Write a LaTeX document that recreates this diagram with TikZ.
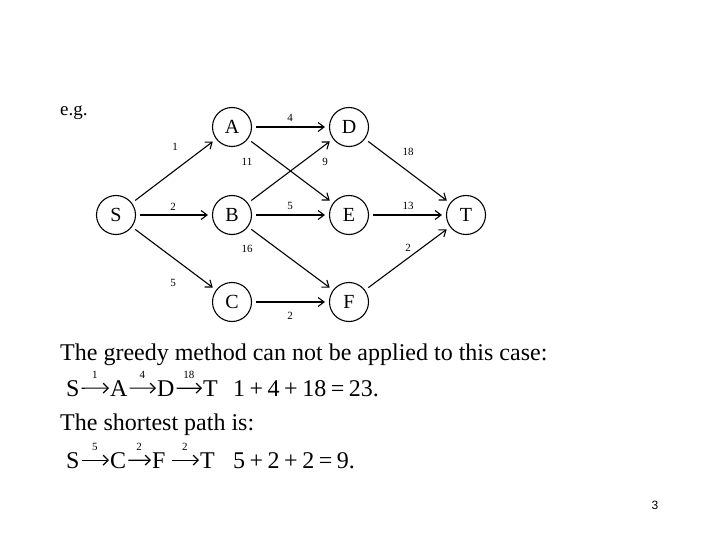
\documentclass[tikz,border=0pt]{standalone}
\usepackage{fontspec}
\setmainfont{Liberation Serif}
\setsansfont{Liberation Sans}
\usetikzlibrary{arrows.meta}

\newcommand{\op}[1]{\hspace{4.5pt}#1\hspace{4.5pt}}

\begin{document}
\begin{tikzpicture}[
    x=1pt, y=-1pt,
    vertex/.style={draw, circle, line width=1.1pt, minimum size=39pt, inner sep=0pt, font=\fontsize{20}{20}\selectfont},
    edge/.style={-{Straight Barb[length=6pt, width=9pt]}, line width=1.1pt, shorten >=4pt, shorten <=4pt},
    weight/.style={font=\fontsize{11}{11}\selectfont, inner sep=0pt},
    slide/.style={anchor=base west, inner sep=0pt, font=\fontsize{24}{24}\selectfont},
    letter/.style={anchor=base west, inner sep=0pt, font=\fontsize{24}{24}\selectfont},
    hop/.style={-{Straight Barb[length=5pt, width=10pt]}, line width=1.2pt, shorten >=1pt, shorten <=2pt},
    hoplabel/.style={midway, above=9pt, inner sep=0pt, font=\fontsize{11}{11}\selectfont},
]
\useasboundingbox (0,0) rectangle (720,540);

% vertices
\node[vertex] (S) at (116,215) {S};
\node[vertex] (A) at (232,127) {A};
\node[vertex] (B) at (232,215) {B};
\node[vertex] (C) at (232,302) {C};
\node[vertex] (D) at (349,127) {D};
\node[vertex] (E) at (349,215) {E};
\node[vertex] (F) at (349,302) {F};
\node[vertex] (T) at (466,215) {T};

% edges
\draw[edge] (S) -- (A);
\draw[edge] (S) -- (B);
\draw[edge] (S) -- (C);
\draw[edge] (A) -- (D);
\draw[edge] (A) -- (E);
\draw[edge] (B) -- (D);
\draw[edge] (B) -- (E);
\draw[edge] (B) -- (F);
\draw[edge] (C) -- (F);
\draw[edge] (D) -- (T);
\draw[edge] (E) -- (T);
\draw[edge] (F) -- (T);

% weights
\node[weight] (wSA) at (175,147) {1};
\node[weight] (wSB) at (173,207) {2};
\node[weight] (wSC) at (173,283) {5};
\node[weight] (wAD) at (290,118) {4};
\node[weight] (wAE) at (247,162) {11};
\node[weight] (wBD) at (325,162) {9};
\node[weight] (wBE) at (290,206) {5};
\node[weight] (wBF) at (247,249) {16};
\node[weight] (wCF) at (290,316) {2};
\node[weight] (wDT) at (408,152) {18};
\node[weight] (wET) at (408,206) {13};
\node[weight] (wFT) at (408,248) {2};

% text
\node[slide, font=\fontsize{19}{19}\selectfont] (eg) at (60,116) {e.g.};
\node[slide] (greedy) at (60,360) {The greedy method can not be applied to this case:};
\node[slide] (shortest) at (60,430) {The shortest path is:};

% greedy path
\node[letter] (gS) at (66,396) {S};
\node[letter] (gA) at (110,396) {A};
\node[letter] (gD) at (157,396) {D};
\node[letter] (gT) at (203,396) {T};
\node[letter] (gsum) at (233,396) {1\op{+}4\op{+}18\op{=}23.};
\draw[hop] (gS) -- node[hoplabel] {1} (gA);
\draw[hop] (gA) -- node[hoplabel] {4} (gD);
\draw[hop] (gD) -- node[hoplabel] {18} (gT);

% shortest path
\node[letter] (sS) at (66,468) {S};
\node[letter] (sC) at (110,468) {C};
\node[letter] (sF) at (152,468) {F};
\node[letter] (sT) at (200,468) {T};
\node[letter] (ssum) at (233,468) {5\op{+}2\op{+}2\op{=}9.};
\draw[hop] (sS) -- node[hoplabel] {5} (sC);
\draw[hop] (sC) -- node[hoplabel] {2} (sF);
\draw[hop] ([xshift=4pt]sF.east) -- node[hoplabel] {2} (sT);

\node[anchor=base, inner sep=0pt, font=\sffamily\fontsize{12}{12}\selectfont] (page) at (655,509) {3};
\end{tikzpicture}
\end{document}
